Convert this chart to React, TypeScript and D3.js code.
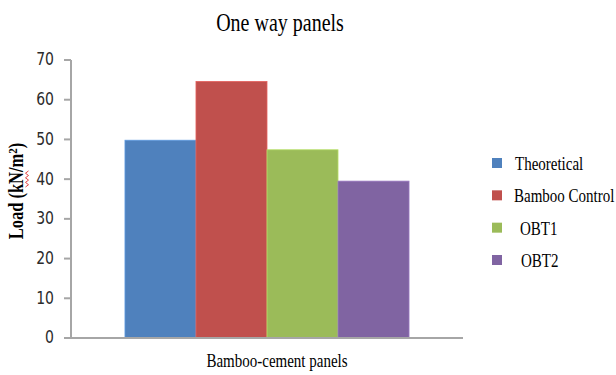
import React from "react";
import * as d3 from "d3";

// One-way panel failure loads (kN/m²)
const seriesNames = ["Theoretical", "Bamboo Control", "OBT1", "OBT2"];
const seriesValues = [49.8, 64.6, 47.4, 39.5];
const seriesColors = ["#4F81BD", "#C0504D", "#9BBB59", "#8064A2"];
const category = "Bamboo-cement panels";
const yTicks = [0, 10, 20, 30, 40, 50, 60, 70];

const W = 616;
const H = 375;
const plot = { left: 71, right: 463, top: 60, bottom: 338 };
const serif = "'Liberation Serif', 'Times New Roman', serif";
const sans = "'DejaVu Sans', Verdana, sans-serif";
const stretch = 1.22; // glyphs are drawn a little taller than wide

export default function App() {
  const y = d3.scaleLinear().domain([0, 70]).range([plot.bottom, plot.top]);
  const xCat = d3.scaleBand().domain([category]).range([plot.left, plot.right]).paddingInner(0).paddingOuter(0.19);
  const xSeries = d3.scaleBand().domain(seriesNames).range([0, xCat.bandwidth()]).padding(0);
  const catX = xCat(category) ?? 0;

  const legendY = d3.scalePoint().domain(seriesNames).range([163, 260]);
  const legendTextX = [515, 514, 520, 521];

  return (
    <svg width={W} height={H} style={{ position: "absolute", left: 0, top: 0, background: "#fff" }}>
      {/* Title */}
      <text
        transform={`translate(280,31) scale(1,${stretch})`}
        textAnchor="middle"
        fontFamily={serif}
        fontSize={20}
        fill="#000"
      >
        One way panels
      </text>

      {/* Bars */}
      {seriesNames.map((s, i) => (
        <rect
          key={s}
          x={catX + (xSeries(s) ?? 0)}
          y={y(seriesValues[i])}
          width={xSeries.bandwidth()}
          height={plot.bottom - y(seriesValues[i])}
          fill={seriesColors[i]}
          stroke={d3.color(seriesColors[i])!.brighter(0.5).formatHex()}
          strokeWidth={0.8}
        />
      ))}

      {/* Y axis */}
      <line x1={plot.left} x2={plot.left} y1={plot.top} y2={plot.bottom} stroke="#a6a6a6" strokeWidth={2} />
      {yTicks.map((t) => (
        <g key={t}>
          <line x1={plot.left - 7} x2={plot.left} y1={y(t)} y2={y(t)} stroke="#a6a6a6" strokeWidth={2} />
          <text
            transform={`translate(54,${y(t)}) scale(1,${stretch})`}
            textAnchor="end"
            dominantBaseline="central"
            fontFamily={sans}
            fontSize={14}
            fill="#2b2b2b"
          >
            {t}
          </text>
        </g>
      ))}

      {/* X axis */}
      <line x1={plot.left - 7} x2={plot.right} y1={plot.bottom} y2={plot.bottom} stroke="#a6a6a6" strokeWidth={2} />
      <text
        transform={`translate(277,367) scale(1,${stretch})`}
        textAnchor="middle"
        fontFamily={serif}
        fontSize={15}
        fill="#000"
      >
        {category}
      </text>

      {/* Y axis title */}
      <g transform={`translate(23,191) scale(${stretch},1)`}>
        <text
          transform="rotate(-90)"
          textAnchor="middle"
          fontFamily={serif}
          fontWeight="bold"
          fontSize={16.5}
          fill="#000"
        >
          Load (kN/m<tspan dy={-5} fontSize={11}>2</tspan>
          <tspan dy={5}>)</tspan>
        </text>
      </g>
      {/* spell-check squiggle under "kN" */}
      <path
        d={d3.range(0, 8).map((k) => `${k === 0 ? "M" : "L"}${27 + (k % 2 ? 1.5 : -1.5)},${187 - k * 2.3}`).join("")}
        fill="none"
        stroke="#e03030"
        strokeWidth={0.9}
      />

      {/* Legend */}
      {seriesNames.map((s, i) => (
        <g key={s}>
          <rect x={492} y={(legendY(s) ?? 0) - 5} width={10} height={10} fill={seriesColors[i]} />
          <text
            transform={`translate(${legendTextX[i]},${(legendY(s) ?? 0) + 1}) scale(1,${stretch})`}
            dominantBaseline="central"
            fontFamily={serif}
            fontSize={15}
            fill="#000"
          >
            {s}
          </text>
        </g>
      ))}
    </svg>
  );
}
